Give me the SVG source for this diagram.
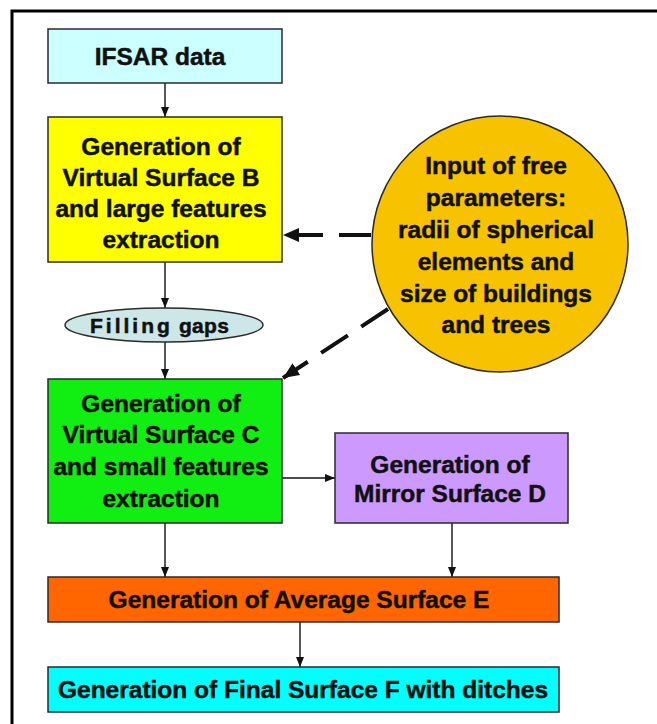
<svg xmlns="http://www.w3.org/2000/svg" width="657" height="724" viewBox="0 0 657 724">
<defs>
<style>
.box{stroke:#2a2a2a;stroke-width:1.5}
.t{font-family:"Liberation Sans",Arial,sans-serif;font-weight:bold;font-size:24.5px;fill:#111;stroke:#111;stroke-width:0.5;text-anchor:middle}
.c{fill:none;stroke:#111;stroke-width:1.4}
.d{fill:none;stroke:#111;stroke-width:4;stroke-dasharray:32 16}
</style>
<marker id="ah" markerUnits="userSpaceOnUse" markerWidth="10" markerHeight="8" refX="10" refY="4" orient="auto">
<path d="M0,0 L10,4 L0,8 z" fill="#111"/>
</marker>
<marker id="ahb" markerUnits="userSpaceOnUse" markerWidth="16" markerHeight="14" refX="16" refY="7" orient="auto">
<path d="M0,0 L16,7 L0,14 z" fill="#111"/>
</marker>
</defs>
<rect width="657" height="724" fill="#ffffff"/>
<path d="M12,740 L12,11 L670,11" fill="none" stroke="#000" stroke-width="3"/>

<g id="connectors">
<line class="c" x1="165" y1="83" x2="165" y2="117" marker-end="url(#ah)"/>
<line class="c" x1="165" y1="262" x2="165" y2="308" marker-end="url(#ah)"/>
<line class="c" x1="165" y1="342" x2="165" y2="379" marker-end="url(#ah)"/>
<line class="c" x1="165" y1="523" x2="165" y2="577" marker-end="url(#ah)"/>
<line class="c" x1="282" y1="478" x2="335" y2="478" marker-end="url(#ah)"/>
<line class="c" x1="452" y1="523" x2="452" y2="577" marker-end="url(#ah)"/>
<line class="c" x1="300" y1="622" x2="300" y2="667" marker-end="url(#ah)"/>
<line class="d" x1="371" y1="235" x2="283" y2="235" marker-end="url(#ahb)"/>
<line class="d" x1="388" y1="309" x2="283" y2="378" marker-end="url(#ahb)"/>
</g>

<g id="ifsar">
<rect class="box" x="48" y="29" width="234" height="54" fill="#ccffff"/>
<text class="t" x="160" y="65">IFSAR data</text>
</g>

<g id="surfaceB">
<rect class="box" x="48" y="117" width="234" height="145" fill="#ffff00"/>
<text class="t" x="161" y="155">Generation of</text>
<text class="t" x="161" y="186">Virtual Surface B</text>
<text class="t" x="161" y="217">and large features</text>
<text class="t" x="161" y="248">extraction</text>
</g>

<g id="filling">
<ellipse class="box" cx="164" cy="325" rx="99" ry="17" fill="#cde6e6"/>
<text class="t" x="90" y="333" style="text-anchor:start;font-size:21px"><tspan letter-spacing="3">Filling</tspan><tspan letter-spacing="0.3"> gaps</tspan></text>
</g>

<g id="params">
<circle class="box" cx="500" cy="244" r="128" fill="#f7c300"/>
<text class="t" x="496" y="174">Input of free</text>
<text class="t" x="496" y="206">parameters:</text>
<text class="t" x="496" y="238">radii of spherical</text>
<text class="t" x="496" y="270">elements and</text>
<text class="t" x="496" y="302">size of buildings</text>
<text class="t" x="496" y="333">and trees</text>
</g>

<g id="surfaceC">
<rect class="box" x="48" y="379" width="234" height="144" fill="#11ee11"/>
<text class="t" x="161" y="412">Generation of</text>
<text class="t" x="161" y="443">Virtual Surface C</text>
<text class="t" x="161" y="475">and small features</text>
<text class="t" x="161" y="507">extraction</text>
</g>

<g id="mirrorD">
<rect class="box" x="335" y="433" width="233" height="90" fill="#cc99ff"/>
<text class="t" x="450" y="473">Generation of</text>
<text class="t" x="450" y="502">Mirror Surface D</text>
</g>

<g id="averageE">
<rect class="box" x="48" y="577" width="511" height="45" fill="#ff6600"/>
<text class="t" x="299" y="608">Generation of Average Surface E</text>
</g>

<g id="finalF">
<rect class="box" x="48" y="667" width="511" height="45" fill="#00ffff"/>
<text class="t" x="303" y="698">Generation of Final Surface F with ditches</text>
</g>
</svg>
